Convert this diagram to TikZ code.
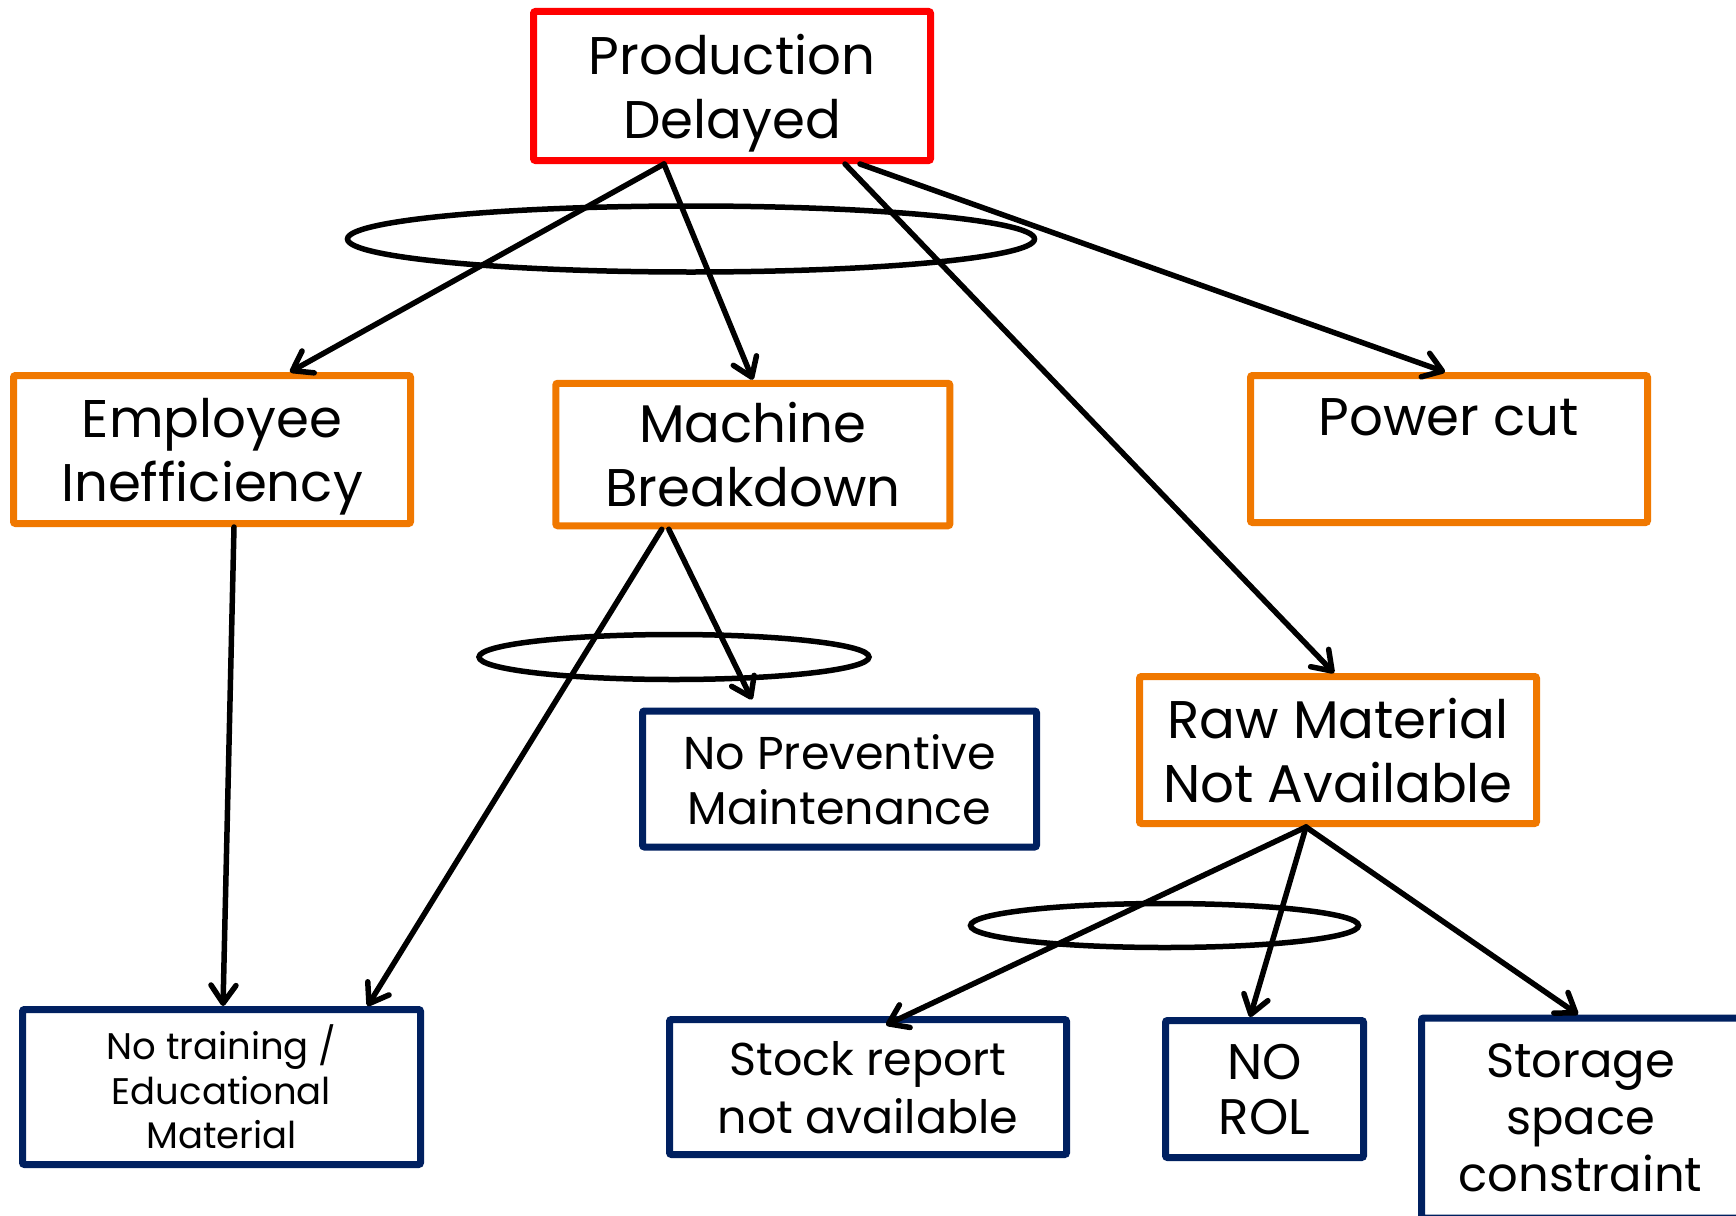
\documentclass[tikz,border=0pt]{standalone}
\usepackage{fontspec}
\setmainfont{Poppins}
\usetikzlibrary{arrows.meta,shapes.geometric}
\definecolor{causeRed}{RGB}{255,0,0}
\definecolor{causeOrange}{RGB}{240,120,0}
\definecolor{causeNavy}{RGB}{0,32,96}
\begin{document}
\begin{tikzpicture}[x=1pt,y=-1pt,
  box/.style={draw, line width=7pt, rounded corners=2pt, fill=white,
    align=center, inner sep=0pt, text depth=0pt},
  effect/.style={box, draw=causeRed, font=\fontsize{53}{64}\selectfont},
  cause/.style={box, draw=causeOrange, font=\fontsize{53}{64}\selectfont},
  root/.style={box, draw=causeNavy},
  link/.style={line width=5.5pt, line cap=round,
    -{Straight Barb[length=18pt,width=25pt,line cap=round,line join=round]}},
  ring/.style={draw, ellipse, line width=5.5pt, inner sep=0pt}]
\useasboundingbox (0,0) rectangle (1736,1215);
\fill[white] (0,0) rectangle (1736,1215);
\clip (0,0) rectangle (1736,1215);

% top effect
\node[effect, minimum width=397pt, minimum height=149pt] (PD) at (732,86) {Production\\Delayed};

% first-level causes
\node[cause, minimum width=397pt, minimum height=148pt] (EI) at (212,449.5) {Employee\\Inefficiency};
\node[cause, minimum width=394pt, minimum height=142.5pt] (MB) at (752.8,454.5) {Machine\\Breakdown};
\node[cause, minimum width=397pt, minimum height=147pt] (PC) at (1449,449) {Power cut\\~};
\node[cause, minimum width=397pt, minimum height=147pt] (RM) at (1338,750) {Raw Material\\Not Available};

% root causes
\node[root, minimum width=394pt, minimum height=136pt, font=\fontsize{46}{55}\selectfont] (NP) at (839.5,779) {No Preventive\\Maintenance};
\node[root, minimum width=398pt, minimum height=155pt, font=\fontsize{37}{44.5}\selectfont] (NT) at (221.5,1087) {No training /\\Educational\\Material};
\node[root, minimum width=397pt, minimum height=135pt, font=\fontsize{46}{58}\selectfont] (SR) at (868,1087) {Stock report\\not available};
\node[root, minimum width=198pt, minimum height=137pt, font=\fontsize{50}{55}\selectfont] (ROL) at (1264.5,1089) {NO\\ROL};
\node[root, minimum width=318pt, minimum height=200pt, font=\fontsize{48}{57}\selectfont] (ST) at (1580.5,1118) {Storage\\space\\constraint};

% grouping rings
\node[ring, minimum width=687pt, minimum height=66pt] (G1) at (691,239) {};
\node[ring, minimum width=390pt, minimum height=45pt] (G2) at (674,657) {};
\node[ring, minimum width=388pt, minimum height=44pt] (G3) at (1164.5,925.5) {};

% cause links
\draw[link] ([xshift=-68pt]PD.south) -- ([xshift=78pt]EI.north);
\draw[link] ([xshift=-68pt]PD.south) -- (MB.north);
\draw[link] ([xshift=113pt]PD.south) -- ([xshift=-4pt]RM.north);
\draw[link] ([xshift=128pt]PD.south) -- ([xshift=-4pt]PC.north);
\draw[link] ([xshift=22pt]EI.south) -- ([xshift=1.5pt]NT.north);
\draw[link] ([xshift=-91pt]MB.south) -- ([xshift=146pt]NT.north);
\draw[link] ([xshift=-84pt]MB.south) -- ([xshift=-87.5pt,yshift=8pt]NP.north);
\draw[link] ([xshift=-32pt]RM.south) -- ([xshift=18pt,yshift=-9pt]SR.north);
\draw[link] ([xshift=-32pt]RM.south) -- ([xshift=-14.5pt]ROL.north);
\draw[link] ([xshift=-32pt]RM.south) -- ([xshift=-2.5pt]ST.north);
\end{tikzpicture}
\end{document}
